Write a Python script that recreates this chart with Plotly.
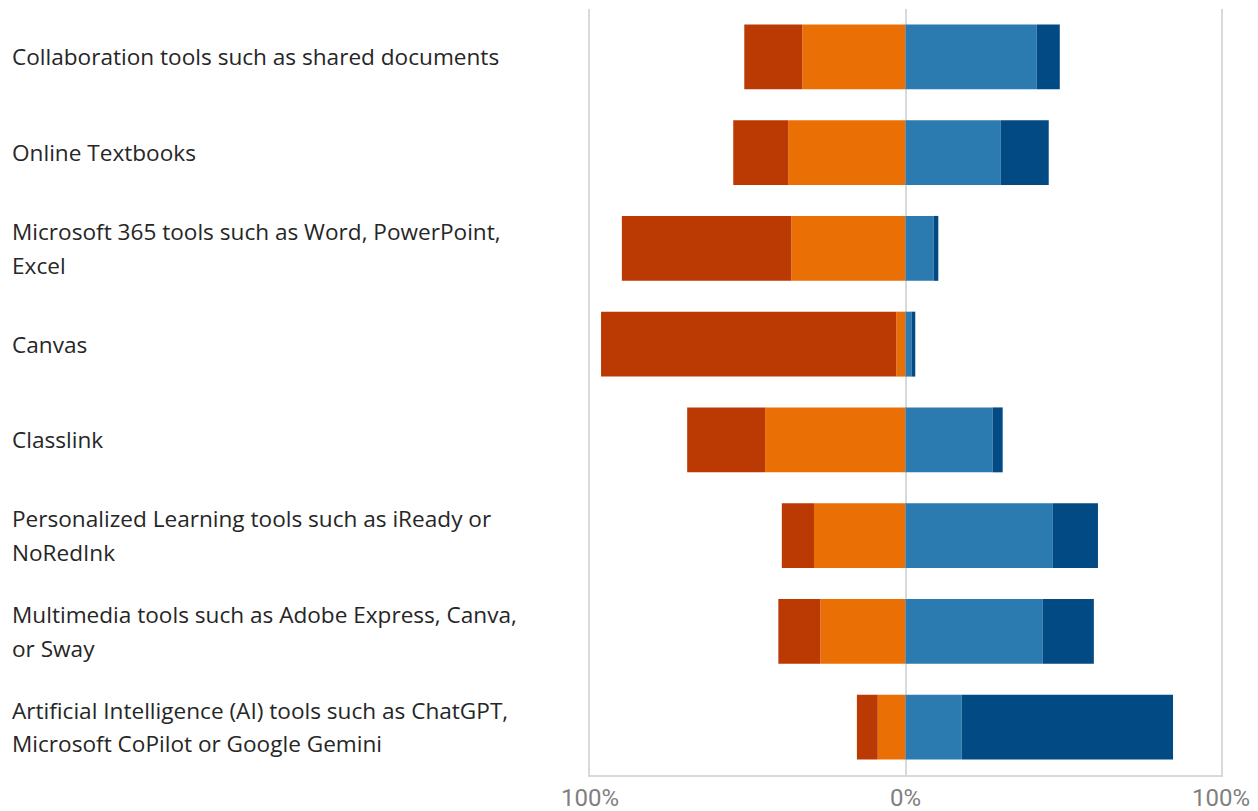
import plotly.graph_objects as go

categories = [
    "Collaboration tools such as shared documents",
    "Online Textbooks",
    "Microsoft 365 tools such as Word, PowerPoint,<br>Excel",
    "Canvas",
    "Classlink",
    "Personalized Learning tools such as iReady or<br>NoRedInk",
    "Multimedia tools such as Adobe Express, Canva,<br>or Sway",
    "Artificial Intelligence (AI) tools such as ChatGPT,<br>Microsoft CoPilot or Google Gemini",
]
strongly_disagree = [18.4, 17.4, 53.7, 93.6, 24.7, 10.2, 13.3, 6.6]
disagree = [32.7, 37.2, 36.2, 2.9, 44.5, 29.0, 27.0, 8.8]
agree = [41.6, 30.2, 8.9, 1.9, 27.6, 46.7, 43.5, 17.8]
strongly_agree = [7.3, 15.2, 1.5, 1.2, 3.2, 14.3, 16.2, 67.0]
tick_vals = [-100, 0, 100]
tick_text = ["100%", "0%", "100%"]

colors = {"sd": "#BB3A03", "d": "#EA7006", "a": "#2B7AB0", "sa": "#014A83"}

# page body has an 8px default margin; size the figure so it fits the window
W, H = 1250, 803

fig = go.Figure()
fig.add_trace(go.Bar(y=categories, x=[-v for v in disagree], orientation="h",
                     marker=dict(color=colors["d"], line=dict(width=0)), name="Disagree"))
fig.add_trace(go.Bar(y=categories, x=[-v for v in strongly_disagree], orientation="h",
                     marker=dict(color=colors["sd"], line=dict(width=0)), name="Strongly disagree"))
fig.add_trace(go.Bar(y=categories, x=agree, orientation="h",
                     marker=dict(color=colors["a"], line=dict(width=0)), name="Agree"))
fig.add_trace(go.Bar(y=categories, x=strongly_agree, orientation="h",
                     marker=dict(color=colors["sa"], line=dict(width=0)), name="Strongly agree"))

annotations = []
for cat in categories:
    lines = cat.split("<br>")
    n = len(lines)
    for i, line in enumerate(lines):
        shift = (n - 1) * 16.75 - i * 33.5
        annotations.append(dict(
            x=2 / W, xref="paper", xanchor="left",
            y=cat, yref="y", yanchor="middle", yshift=shift,
            text=line, showarrow=False,
            font=dict(family="Open Sans, Noto Sans, sans-serif", size=22.6, color="#262626"),
        ))

fig.update_layout(
    barmode="relative",
    bargap=0.322,
    width=W, height=H,
    margin=dict(l=0, r=0, t=1, b=36, autoexpand=False),
    paper_bgcolor="white", plot_bgcolor="white",
    showlegend=False,
    annotations=annotations,
    xaxis=dict(
        domain=[582 / W, 1213 / W],
        range=[-100, 100],
        tickvals=tick_vals, ticktext=tick_text,
        showgrid=True, gridcolor="#D9D9D9", gridwidth=1.5,
        zeroline=True, zerolinecolor="#D9D9D9", zerolinewidth=1.5,
        showline=True, linecolor="#D9D9D9", linewidth=2,
        tickfont=dict(family="Liberation Sans Narrow, Roboto, sans-serif", size=24, color="#7F7F7F"),
        ticks="", automargin=False, fixedrange=True,
    ),
    yaxis=dict(
        autorange="reversed",
        showticklabels=False, showgrid=False, zeroline=False,
        showline=True, mirror=True, linecolor="#D9D9D9", linewidth=2,
        automargin=False, fixedrange=True,
    ),
)

fig.write_html("out.html")
